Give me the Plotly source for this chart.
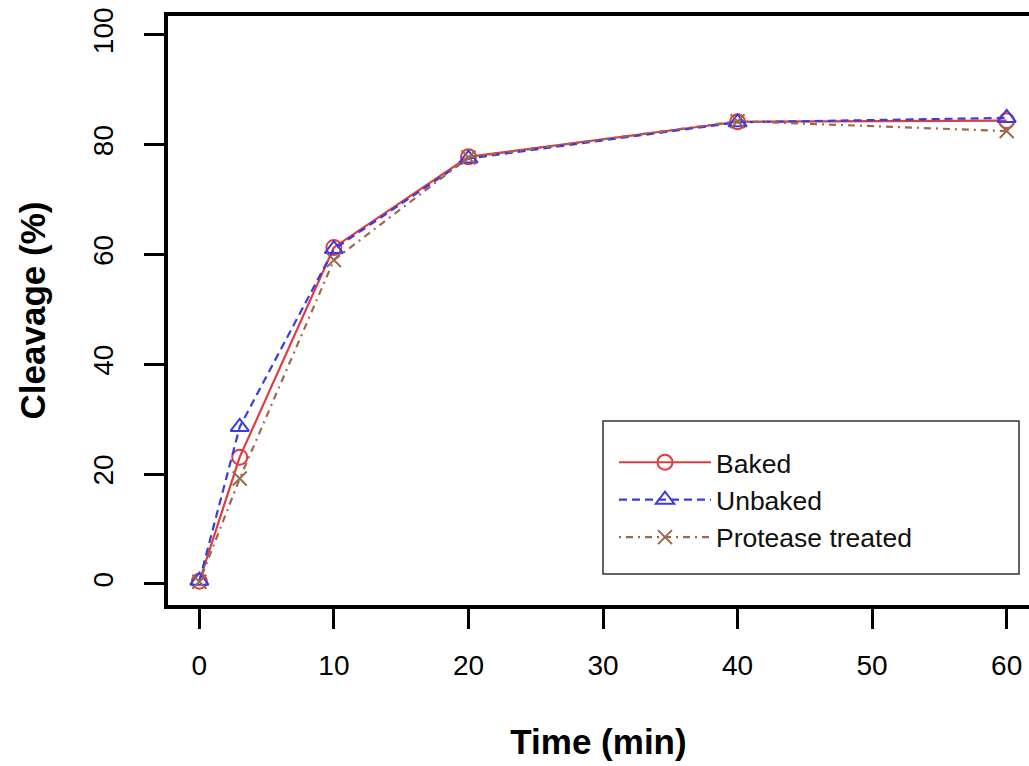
import plotly.graph_objects as go

# Time points (min) and cleavage (%) for each sample treatment
time_min = [0, 3, 10, 20, 40, 60]
baked = [0.5, 23.1, 61.3, 77.8, 84.2, 84.4]
unbaked = [0.6, 28.6, 61.0, 77.5, 84.1, 84.9]
protease_treated = [0.4, 19.2, 59.0, 77.7, 84.3, 82.5]

series_names = ["Baked", "Unbaked", "Protease treated"]
series_colors = ["#E23B3B", "#3B3BE2", "#9B6A4E"]
series_dash = ["solid", "8px,5px", "2px,5px,7px,5px"]
series_symbols = ["circle-open", "triangle-up-open", "x-thin-open"]
series_sizes = [15, 16, 14]

x_ticks = [0, 10, 20, 30, 40, 50, 60]
y_ticks = [0, 20, 40, 60, 80, 100]

W, H = 1029, 766
ML, MR, MT, MB = 168, 0, 16, 161

fig = go.Figure()
for name, vals, col, dash, sym, sz in zip(series_names,
                                          [baked, unbaked, protease_treated],
                                          series_colors, series_dash,
                                          series_symbols, series_sizes):
    fig.add_trace(go.Scatter(
        x=time_min, y=vals, name=name, mode="lines+markers",
        line=dict(color=col, width=2.2, dash=dash),
        marker=dict(symbol=sym, size=sz, color=col, line=dict(color=col, width=2)),
    ))

font_main = "Liberation Sans, Arial, sans-serif"

# legend frame, in pixel positions converted to paper coordinates
pw, ph = W - ML - MR, H - MT - MB
def px_x(p):
    return (p - ML) / pw
def px_y(p):
    return (H - MB - p) / ph

fig.add_shape(type="rect", xref="paper", yref="paper",
              x0=px_x(603), x1=px_x(1019), y0=px_y(574), y1=px_y(421),
              line=dict(color="#333333", width=1.5), fillcolor="rgba(0,0,0,0)")

fig.update_layout(
    width=W, height=H,
    margin=dict(l=ML, r=MR, t=MT, b=MB, pad=0),
    paper_bgcolor="white", plot_bgcolor="white",
    font=dict(family=font_main, color="black"),
    legend=dict(
        x=px_x(614), y=px_y(438.5), xanchor="left", yanchor="top",
        bgcolor="rgba(0,0,0,0)", borderwidth=0,
        font=dict(size=26.5, family=font_main, color="#111111"),
        itemwidth=92,
    ),
    xaxis=dict(
        range=[-2.33, 61.66], tickvals=x_ticks, ticks="outside", ticklen=20,
        tickwidth=3, tickcolor="black", showline=True, linewidth=3.5,
        linecolor="black", mirror=True, showgrid=False, zeroline=False,
        tickfont=dict(size=28, family=font_main), ticklabelstandoff=13,
        title=dict(text="Time (min)", standoff=50,
                   font=dict(size=35, family=font_main, weight="bold")),
    ),
    yaxis=dict(
        range=[-3.83, 103.46], tickvals=y_ticks, ticks="outside", ticklen=20,
        tickwidth=3, tickcolor="black", showline=True, linewidth=3.5,
        linecolor="black", showgrid=False, zeroline=False, tickangle=-90,
        tickfont=dict(size=28, family=font_main), ticklabelstandoff=20,
        title=dict(text="Cleavage (%)", standoff=33,
                   font=dict(size=35, family=font_main, weight="bold")),
    ),
)

fig.write_html("out.html")
